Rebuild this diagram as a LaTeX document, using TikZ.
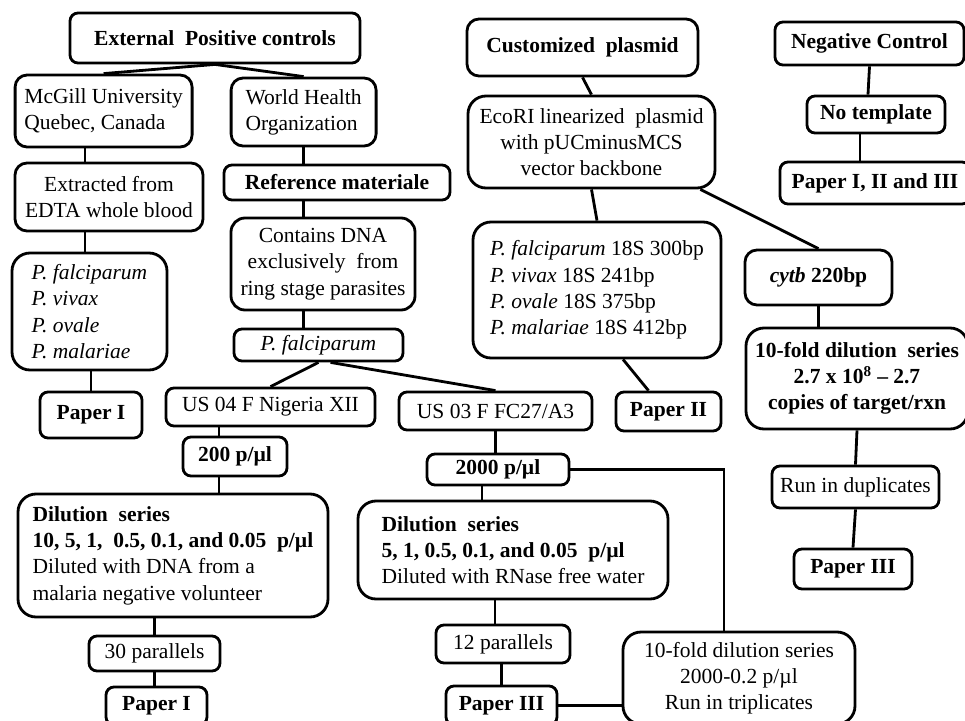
\documentclass[tikz,border=0pt]{standalone}
\usepackage{fontspec}
\setmainfont{Liberation Serif}
\usepackage{tikz}

\tikzset{
  box/.style={draw, line width=2pt, rounded corners=0.2cm, inner sep=2pt,
    font=\fontsize{15.3pt}{18.7pt}\selectfont},
  bigbox/.style={box, rounded corners=0.45cm},
  link/.style={line width=2pt}
}

\begin{document}
\begin{tikzpicture}
    % Page size of the reference
    \useasboundingbox (0,0) rectangle (24.125,-18);
    \clip (0,0) rectangle (24.125,-18);

    % External positive controls
    \node[box, minimum width=7.25cm, minimum height=1.25cm] (epc) at (5.375,-0.95) {\textbf{External\ \ Positive controls}};
    \node[box, rounded corners=0.3cm, minimum width=4.425cm, minimum height=1.8cm, align=left] (mcgill) at (2.59,-2.775) {McGill University\\Quebec, Canada};
    \node[box, rounded corners=0.3cm, minimum width=3.625cm, minimum height=1.7cm, align=left] (who) at (7.59,-2.8) {World Health\\Organization};
    \node[box, rounded corners=0.3cm, minimum width=4.7cm, minimum height=1.7cm, align=center] (extracted) at (2.725,-4.925) {Extracted from\\EDTA whole blood};
    \node[box, minimum width=5.65cm, minimum height=0.875cm] (refmat) at (8.425,-4.5625) {\textbf{Reference materiale}};
    \node[box, rounded corners=0.35cm, minimum width=4.6cm, minimum height=2.3cm, align=center] (contains) at (8.075,-6.6) {Contains DNA\\exclusively\ \ from\\ring stage parasites};
    \node[bigbox, minimum width=3.875cm, minimum height=2.925cm, align=left] (plist) at (2.2375,-7.7875) {\textit{P. falciparum}\\\textit{P. vivax}\\\textit{P. ovale}\\\textit{P. malariae}};
    \node[box, minimum width=2.55cm, minimum height=1.15cm] (paper1a) at (2.275,-10.375) {\textbf{Paper I}};
    \node[box, minimum width=4.225cm, minimum height=0.8cm] (pfalc) at (7.9625,-8.625) {\textit{P. falciparum}};
    \node[box, minimum width=5.225cm, minimum height=0.95cm] (us04) at (6.7625,-10.175) {US 04 F Nigeria XII};
    \node[box, minimum width=4.825cm, minimum height=0.95cm] (us03) at (12.3875,-10.275) {US 03 F FC27/A3};
    \node[box, minimum width=2.6cm, minimum height=0.975cm] (p200) at (5.875,-11.4125) {\textbf{200 p/µl}};
    \node[box, minimum width=3.55cm, minimum height=0.775cm] (p2000) at (12.45,-11.7375) {\textbf{2000 p/µl}};
    \node[bigbox, minimum width=7.75cm, minimum height=3.075cm, align=left] (dilA) at (4.325,-13.8875) {\textbf{Dilution\ \ series}\\\textbf{10, 5, 1,\ \ 0.5, 0.1, and 0.05\ \ p/µl}\\Diluted with DNA from a\\malaria negative volunteer};
    \node[bigbox, minimum width=7.75cm, minimum height=2.45cm, align=left] (dilB) at (12.825,-13.75) {\textbf{Dilution\ \ series}\\\textbf{5, 1, 0.5, 0.1, and 0.05\ \ p/µl}\\Diluted with RNase free water};
    \node[box, minimum width=3.275cm, minimum height=0.875cm] (par30) at (3.8625,-16.3375) {30 parallels};
    \node[box, minimum width=2.525cm, minimum height=0.95cm] (paper1b) at (3.9125,-17.65) {\textbf{Paper I}};
    \node[box, minimum width=3.35cm, minimum height=0.95cm] (par12) at (12.575,-16.1) {12 parallels};
    \node[box, minimum width=2.775cm, minimum height=0.975cm] (paper3b) at (12.5375,-17.6375) {\textbf{Paper III}};
    \node[bigbox, minimum width=5.8cm, minimum height=2.3cm, align=center] (trip) at (18.475,-16.95) {10-fold dilution series\\2000-0.2 p/µl\\Run in triplicates};

    % Customized plasmid
    \node[box, rounded corners=0.3cm, minimum width=5.775cm, minimum height=1.425cm] (custom) at (14.5625,-1.1875) {\textbf{Customized\ \ plasmid}};
    \node[bigbox, minimum width=6.175cm, minimum height=2.3cm, align=center] (ecori) at (14.7875,-3.55) {EcoRI linearized\ \ plasmid\\with pUCminusMCS\\vector backbone};
    \node[bigbox, minimum width=6.2cm, minimum height=3.4cm, align=left] (list18) at (14.925,-7.25) {\textit{P. falciparum} 18S 300bp\\\textit{P. vivax} 18S 241bp\\\textit{P. ovale} 18S 375bp\\\textit{P. malariae} 18S 412bp};
    \node[box, minimum width=2.625cm, minimum height=0.975cm] (paper2) at (16.7125,-10.2875) {\textbf{Paper II}};
    \node[box, rounded corners=0.3cm, minimum width=3.675cm, minimum height=1.375cm] (cytb) at (20.4625,-6.9375) {\textbf{\textit{cytb} 220bp}};
    \node[bigbox, minimum width=5.55cm, minimum height=2.525cm, align=center] (tenfold) at (21.425,-9.4625) {\textbf{10-fold dilution\ \ series}\\\textbf{2.7 x 10\textsuperscript{8} -- 2.7}\\\textbf{copies of target/rxn}};
    \node[box, minimum width=4.175cm, minimum height=1.05cm] (dupl) at (21.3875,-12.175) {Run in duplicates};
    \node[box, minimum width=2.95cm, minimum height=1cm] (paper3a) at (21.325,-14.225) {\textbf{Paper III}};

    % Negative control
    \node[box, minimum width=4.725cm, minimum height=1.075cm] (negctl) at (21.7375,-1.0875) {\textbf{Negative Control}};
    \node[box, minimum width=3.45cm, minimum height=0.925cm] (notemp) at (21.9,-2.8625) {\textbf{No template}};
    \node[box, minimum width=4.75cm, minimum height=1.05cm] (paperall) at (21.875,-4.575) {\textbf{Paper I, II and III}};

    % Connectors, left branch
    \draw[link] (epc.south) -- (mcgill.north);
    \draw[link] (epc.south) -- (who.north);
    \draw[link] ([xshift=-0.6cm]extracted.north) -- ([xshift=-0.6cm]extracted.north |- mcgill.south);
    \draw[link] ([xshift=-0.6cm]extracted.south) -- ([xshift=-0.6cm]extracted.south |- plist.north);
    \draw[link] (paper1a.north) -- (paper1a.north |- plist.south);
    \draw[link] (who.south) -- (who.south |- refmat.north);
    \draw[link] (refmat.south -| who.south) -- (contains.north -| who.south);
    \draw[link] (contains.south -| who.south) -- (pfalc.north -| who.south);
    \draw[link] (pfalc.south) -- (us04.north);
    \draw[link] ([xshift=0.3cm]pfalc.south) -- (us03.north);
    \draw[link] ([xshift=-0.4cm]p200.north) -- ([xshift=-0.4cm]p200.north |- us04.south);
    \draw[link] ([xshift=-0.4cm]p200.south) -- ([xshift=-0.4cm]p200.south |- dilA.north);
    \draw[link] (par30.north) -- (par30.north |- dilA.south);
    \draw[link] (par30.south) -- (par30.south |- paper1b.north);
    \draw[link] (us03.south) -- (us03.south |- p2000.north);
    \draw[link] ([xshift=-0.4cm]p2000.south) -- ([xshift=-0.4cm]p2000.south |- dilB.north);
    \draw[link] ([xshift=-0.2cm]par12.north) -- ([xshift=-0.2cm]par12.north |- dilB.south);
    \draw[link] (paper3b.north) -- (paper3b.north |- par12.south);
    \draw[link] (paper3b.east) -- (paper3b.east -| trip.west);
    \draw[link] (p2000.east) -| ([xshift=-0.375cm]trip.north);

    % Connectors, plasmid and negative control
    \draw[link] (custom.south) -- (ecori.north);
    \draw[link] (ecori.south) -- (list18.north);
    \draw[link] ([xshift=-0.4cm]ecori.south east) -- (cytb.north);
    \draw[link] ([xshift=0.65cm]list18.south) -- ([xshift=-0.5cm]paper2.north);
    \draw[link] (cytb.south) -- (cytb.south |- tenfold.north);
    \draw[link] (tenfold.south) -- (dupl.north);
    \draw[link] (dupl.south) -- (paper3a.north);
    \draw[link] (negctl.south) -- ([xshift=-0.2cm]notemp.north);
    \draw[link] ([xshift=-0.4cm]notemp.south) -- ([xshift=-0.4cm]notemp.south |- paperall.north);
\end{tikzpicture}
\end{document}
